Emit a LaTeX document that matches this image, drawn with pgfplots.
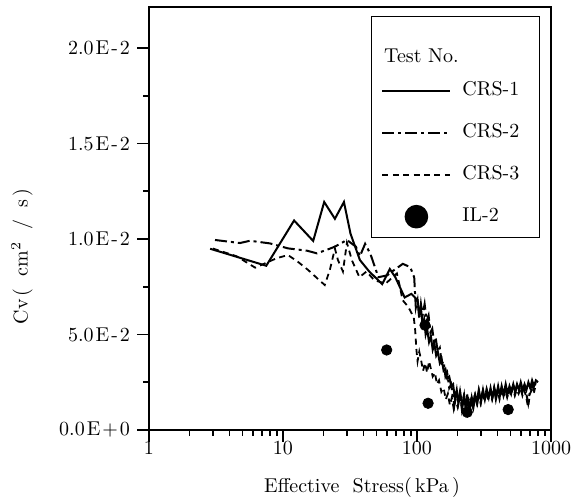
\documentclass[border=0pt]{standalone}
\usepackage{pgfplots}
\pgfplotsset{compat=1.18}
\pgfplotsset{longlegend/.style={legend image code/.code={\draw[##1] (0pt,0pt) -- (34pt,0pt);}}}
\begin{document}
\begin{tikzpicture}
\begin{axis}[
  name=ax,
  xmode=log,
  scale only axis,
  width=201pt, height=211.5pt,
  xmin=1, xmax=1000,
  ymin=0, ymax=0.02215,
  xtick={1,10,100,1000},
  xticklabels={1,10,100,1000},
  minor xtick={2,3,4,5,6,7,8,9,20,30,40,50,60,70,80,90,200,300,400,500,600,700,800,900},
  ytick={0,0.005,0.01,0.015,0.02},
  yticklabels={0.0\kern1pt E\kern1pt+\kern1pt 0,5.0\kern1pt E\kern1pt-\kern1pt 2,1.0\kern1pt E\kern1pt-\kern1pt 2,1.5\kern1pt E\kern1pt-\kern1pt 2,2.0\kern1pt E\kern1pt-\kern1pt 2},
  minor ytick={0.0025,0.0075,0.0125,0.0175},
  scaled y ticks=false,
  tick align=outside,
  xtick pos=left, ytick pos=left,
  major tick length=6pt, minor tick length=3pt,
  axis line style={line width=0.8pt},
  every tick/.style={black, line width=0.8pt},
  x tick label style={yshift=4pt},
  xlabel={Effective~~Stress(\,kPa\,)},
  ylabel={Cv\kern1.5pt(\kern6pt cm$^{2}$\kern6pt/\kern6pt s\kern1.5pt)},
  xlabel style={at={(axis description cs:0.53,-0.135)}, anchor=center},
  ylabel style={at={(axis description cs:-0.316,0.41)}, anchor=center},
  longlegend,
  legend cell align=left,
  legend style={at={(0.973,0.979)}, anchor=north east, draw=black, line width=0.8pt,
    inner xsep=5pt, inner ysep=4pt, row sep=8pt, column sep=3.5pt,
    nodes={text height=7pt, text depth=2pt, inner sep=2pt}},
]
\addlegendimage{legend image code/.code={\node[anchor=base west,overlay,inner sep=0pt,yshift=-9.5pt] at (0.5pt,0pt) {Test~No.};}}
\addlegendentry[text height=14.5pt, text depth=0pt]{}

% CRS-1 (solid)
\addplot[black, line width=1pt] table {
x y
2.86 0.00949
7.5 0.0086
12.1 0.01097
16.8 0.0099
20.3 0.01194
24.4 0.01106
28.5 0.01194
31.9 0.01028
37.5 0.0089
44 0.0083
55 0.00764
62.7 0.00843
68.9 0.0080
80.9 0.00694
90.8 0.00713
101 0.0068
104 0.0061
107 0.0064
110 0.0055
113 0.0058
116 0.0050
119 0.0053
123 0.0046
127 0.0049
131 0.0042
135 0.0045
139 0.0039
143 0.0041
148 0.0035
153 0.0037
158 0.0031
163 0.0032
168 0.0027
174 0.0028
180 0.0023
186 0.0024
192 0.0016
198 0.0021
204 0.0014
211 0.0019
218 0.0012
225 0.0018
232 0.0010
240 0.0016
248 0.0011
256 0.0017
264 0.0012
273 0.0018
282 0.0014
291 0.0020
301 0.0015
311 0.0021
321 0.0016
332 0.0021
343 0.0017
354 0.0022
366 0.0017
378 0.0022
390 0.0018
403 0.0023
416 0.0018
430 0.0022
444 0.0019
459 0.0024
474 0.0019
490 0.0023
506 0.0020
523 0.0024
540 0.0020
558 0.0024
576 0.0021
595 0.0025
615 0.0021
635 0.0024
656 0.0021
678 0.0025
700 0.0022
723 0.0026
747 0.0023
772 0.0026
800 0.0025
};
\addlegendentry{CRS-1\hspace*{3pt}}

% CRS-2 (dash-dot)
\addplot[black, line width=1pt, dash pattern=on 6pt off 2pt on 1.5pt off 2pt] table {
x y
3.11 0.00995
4.78 0.00979
5.67 0.00991
8.0 0.00977
10.9 0.00951
15.1 0.00939
17.9 0.00925
21.7 0.00946
24.4 0.0096
30 0.00995
35 0.0096
37.5 0.0091
41 0.00975
45 0.0092
51.5 0.0080
60 0.0081
66.7 0.00835
78.4 0.0087
89 0.00853
95.3 0.0080
98 0.0064
101 0.0068
104 0.0058
107 0.0066
110 0.0060
114 0.0066
118 0.0057
122 0.0060
126 0.0051
130 0.0053
134 0.0046
138 0.0048
143 0.0041
148 0.0043
153 0.0035
158 0.0036
163 0.0028
168 0.0030
174 0.0022
180 0.0024
186 0.0017
190 0.0013
196 0.0019
203 0.0015
209 0.0020
216 0.0011
223 0.0017
230 0.0013
238 0.0019
246 0.0012
254 0.0018
262 0.0013
271 0.0019
280 0.0015
289 0.0021
299 0.0016
309 0.0020
319 0.0015
330 0.0021
341 0.0016
352 0.0021
364 0.0017
376 0.0022
388 0.0016
401 0.0021
414 0.0018
428 0.0023
442 0.0018
457 0.0022
472 0.0017
488 0.0022
504 0.0019
521 0.0024
538 0.0019
556 0.0023
574 0.0020
593 0.0024
613 0.0020
633 0.0023
654 0.0019
676 0.0014
698 0.0021
721 0.0024
745 0.0021
770 0.0025
790 0.0024
};
\addlegendentry{CRS-2\hspace*{3pt}}

% CRS-3 (dashed)
\addplot[black, line width=0.9pt, dash pattern=on 3pt off 2.2pt] table {
x y
3.0 0.0095
4.5 0.0091
6.2 0.0085
9.0 0.0090
10.9 0.00916
12.9 0.00881
15.4 0.00838
17.9 0.00796
20.5 0.00759
22.4 0.0084
24.4 0.0095
25.7 0.0089
28 0.0083
30 0.0098
32.7 0.00888
37.2 0.0080
42 0.0083
48 0.00784
58.4 0.00767
70.8 0.0082
74 0.0076
78.1 0.0068
86 0.00645
94.6 0.0059
97 0.0052
99 0.0042
101 0.0036
104 0.0041
107 0.0037
111 0.0031
115 0.0035
119 0.0030
123 0.0036
127 0.0032
131 0.0028
136 0.0030
141 0.0024
146 0.0026
152 0.0020
158 0.0022
164 0.0016
170 0.0019
176 0.0013
182 0.0017
188 0.0011
194 0.0016
201 0.0012
208 0.0018
215 0.0013
222 0.0017
229 0.0010
237 0.0016
245 0.0009
253 0.0015
261 0.0012
270 0.0018
279 0.0014
288 0.0019
298 0.0014
308 0.0019
318 0.0015
329 0.0020
340 0.0016
351 0.0020
363 0.0016
375 0.0021
387 0.0017
400 0.0021
413 0.0016
427 0.0020
441 0.0017
456 0.0021
471 0.0017
487 0.0021
503 0.0018
520 0.0022
537 0.0018
555 0.0021
573 0.0019
592 0.0022
612 0.0018
632 0.0021
653 0.0017
675 0.0012
697 0.0019
720 0.0021
743 0.0019
760 0.0022
};
\addlegendentry{CRS-3\hspace*{3pt}}

% IL-2 (dots)
\addplot[black, only marks, mark=*, mark size=2.6pt, forget plot] table {
x y
59.4 0.00419
114.8 0.00549
121 0.0014
237 0.00093
479 0.00107
};
\addlegendimage{legend image code/.code={\fill[black] (17pt,0pt) circle (5.5pt);}}
\addlegendentry{IL-2}
\end{axis}
\path ([shift={(-74.5pt,-36pt)}]ax.south west) rectangle ([shift={(18pt,3.5pt)}]ax.north east);
\end{tikzpicture}
\end{document}
